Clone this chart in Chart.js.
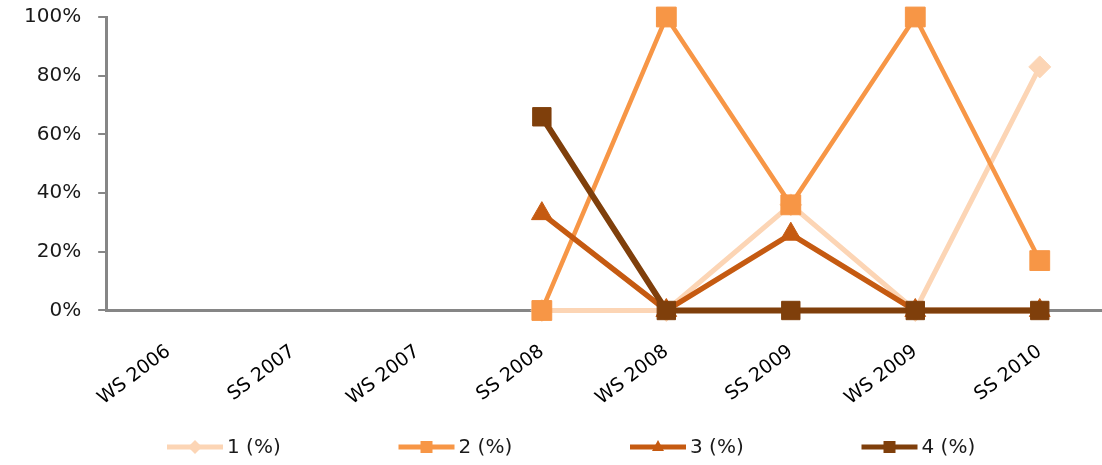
<!DOCTYPE html>
<html>
<head>
<meta charset="utf-8">
<script src="https://cdn.jsdelivr.net/npm/chart.js@4/dist/chart.umd.min.js"></script>
<style>
  html, body { margin: 0; padding: 0; background: #fff; }
  #wrap { width: 1102px; height: 465px; }
</style>
</head>
<body>
<div id="wrap"><canvas id="myChart" width="1102" height="465"></canvas></div>
<script>
/* Data */
const semesters = ['WS 2006', 'SS 2007', 'WS 2007', 'SS 2008', 'WS 2008', 'SS 2009', 'WS 2009', 'SS 2010'];
const grade1 = [null, null, null, 0, 0, 36, 0, 83];
const grade2 = [null, null, null, 0, 100, 36, 100, 17];
const grade3 = [null, null, null, 33, 0, 26, 0, 0];
const grade4 = [null, null, null, 66, 0, 0, 0, 0];
const seriesNames = ['1 (%)', '2 (%)', '3 (%)', '4 (%)'];
const yTicks = [0, 20, 40, 60, 80, 100];

const colors = ['#FCD5B5', '#F79646', '#C55A11', '#7F3F0B'];
const markers = ['rectRot', 'rect', 'triangle', 'rect'];
const radii = [11, 14, 12, 13];
const widths = [5, 4.5, 5.5, 6];

function makeDataset(i, values) {
  return {
    label: seriesNames[i],
    data: values,
    borderColor: colors[i],
    backgroundColor: colors[i],
    borderWidth: widths[i],
    pointStyle: markers[i],
    pointRadius: radii[i],
    pointBorderWidth: 1,
    pointBackgroundColor: colors[i],
    pointBorderColor: colors[i],
    tension: 0,
    spanGaps: false,
    clip: false,
    order: 4 - i
  };
}

/* Legend drawn as line + marker like the original */
const customLegend = {
  id: 'customLegend',
  afterDraw(chart) {
    const ctx = chart.ctx;
    const y = 447;
    const step = 231.5;
    ctx.save();
    chart.data.datasets.forEach(function (ds, i) {
      const x0 = 167 + i * step;
      ctx.strokeStyle = ds.borderColor;
      ctx.lineWidth = 5;
      ctx.beginPath();
      ctx.moveTo(x0, y);
      ctx.lineTo(x0 + 56, y);
      ctx.stroke();
      ctx.fillStyle = ds.borderColor;
      const cx = x0 + 28;
      ctx.beginPath();
      if (ds.pointStyle === 'rectRot') {
        ctx.moveTo(cx, y - 7); ctx.lineTo(cx + 7, y); ctx.lineTo(cx, y + 7); ctx.lineTo(cx - 7, y);
      } else if (ds.pointStyle === 'triangle') {
        ctx.moveTo(cx, y - 7); ctx.lineTo(cx + 6, y + 4); ctx.lineTo(cx - 6, y + 4);
      } else {
        ctx.rect(cx - 6, y - 6, 12, 12);
      }
      ctx.closePath();
      ctx.fill();
      ctx.fillStyle = '#1a1a1a';
      ctx.font = '20px "DejaVu Sans"';
      ctx.textBaseline = 'middle';
      ctx.fillText(ds.label, x0 + 60, y + 1);
    });
    ctx.restore();
  }
};

var ctx = document.getElementById('myChart').getContext('2d');

// eslint-disable-next-line no-undef
var chart = new Chart(ctx, {
  type: 'line',
  data: {
    labels: semesters,
    datasets: [
      makeDataset(0, grade1),
      makeDataset(1, grade2),
      makeDataset(2, grade3),
      makeDataset(3, grade4)
    ]
  },
  options: {
    responsive: false,
    animation: false,
    layout: { autoPadding: false, padding: { top: 17, right: -10, bottom: 33, left: 7 } },
    plugins: {
      legend: { display: false },
      tooltip: { enabled: false }
    },
    scales: {
      x: {
        offset: true,
        grid: { display: false },
        border: { color: '#868686', width: 3 },
        ticks: {
          color: '#000',
          font: { family: 'DejaVu Sans', size: 19 },
          minRotation: 37,
          maxRotation: 37,
          padding: 22,
          autoSkip: false
        }
      },
      y: {
        min: 0,
        max: 100,
        afterBuildTicks: function (axis) {
          axis.ticks = yTicks.map(function (v) { return { value: v }; });
        },
        afterFit: function (axis) {
          axis.paddingTop = 0;
          axis.paddingBottom = 0;
        },
        grid: {
          drawOnChartArea: false,
          drawTicks: true,
          tickLength: 8,
          color: '#868686',
          lineWidth: 2
        },
        border: { color: '#868686', width: 3 },
        ticks: {
          color: '#1a1a1a',
          font: { family: 'DejaVu Sans', size: 20 },
          padding: 17,
          callback: function (v) { return v + '%'; }
        }
      }
    }
  },
  plugins: [customLegend]
});
</script>
</body>
</html>
